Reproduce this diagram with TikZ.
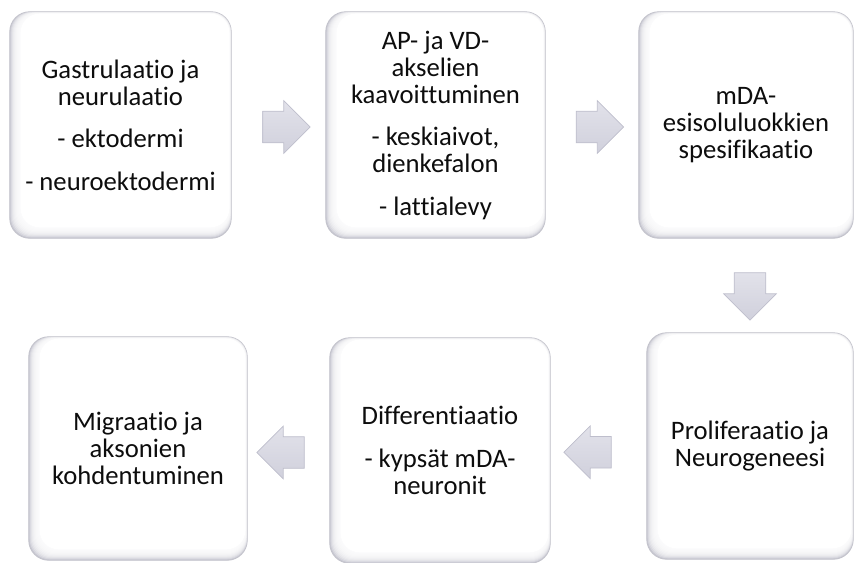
\documentclass[tikz,border=0pt]{standalone}
\usepackage{fontspec}
\setmainfont{Carlito}[Ligatures=NoCommon]
\usetikzlibrary{shapes.arrows,backgrounds,calc}
\definecolor{boxedge}{RGB}{196,196,204}
\definecolor{boxshade}{RGB}{200,200,210}
\definecolor{arrowtop}{RGB}{226,226,234}
\definecolor{arrowbot}{RGB}{208,208,220}
\definecolor{arrowedge}{RGB}{190,190,204}
\definecolor{txt}{RGB}{13,13,13}
\tikzset{
  stagebox/.style 2 args={minimum width=#1*0.75pt, minimum height=#2*0.75pt,
    inner sep=0pt, align=center, text=txt,
    font=\fontsize{20}{20.3}\selectfont},
  blockarrow/.style={single arrow, draw=arrowedge, line width=0.5pt,
    top color=arrowtop, bottom color=arrowbot,
    minimum height=34pt, inner sep=11.6pt,
    single arrow head extend=7.9pt}
}
\newcommand\bevelbox[1]{%
  \path[fill=boxshade, draw=boxedge, line width=0.6pt, rounded corners=15pt]
    (#1.south west) rectangle (#1.north east);
  \foreach \i in {1,...,10}{
    \fill[white, opacity=0.28, rounded corners=15pt]
      ($(#1.south west)+(\i,-\i)$) rectangle ($(#1.north east)+(-0.15*\i,0.15*\i)$);
  }
  \fill[white, rounded corners=14pt]
    ($(#1.south west)+(11,-11)$) rectangle ($(#1.north east)+(-2,2)$);
}
\begin{document}
\begin{tikzpicture}[x=0.75pt,y=-0.75pt]
\useasboundingbox (0,0) rectangle (855,562);
\clip (0,0) rectangle (855,562);
\node[stagebox={221}{226}] (b1) at (120.5,125)
  {Gastrulaatio ja\\neurulaatio\\[11.5pt]- ektodermi\\[11.5pt]- neuroektodermi};
\node[stagebox={219}{226}] (b2) at (435.5,125)
  {AP- ja VD-\\akselien\\kaavoittuminen\\[11.5pt]- keskiaivot,\\dienkefalon\\[11.5pt]- lattialevy};
\node[stagebox={214}{226}] (b3) at (746,125)
  {mDA-\\esisoluluokkien\\spesifikaatio};
\node[stagebox={206}{226}] (b6) at (750,446)
  {Proliferaatio ja\\Neurogeneesi};
\node[stagebox={220}{225}] (b5) at (440,450.5)
  {Differentiaatio\\[11.5pt]- kypsät mDA-\\neuronit};
\node[stagebox={218}{223}] (b4) at (138,448.5)
  {Migraatio ja\\aksonien\\kohdentuminen};
\begin{scope}[on background layer]
  \bevelbox{b1}\bevelbox{b2}\bevelbox{b3}\bevelbox{b4}\bevelbox{b5}\bevelbox{b6}
\end{scope}
\node[blockarrow] (a1) at ($(b1.east)!0.5!(b2.west)+(0,2)$) {};
\node[blockarrow] (a2) at ($(b2.east)!0.5!(b3.west)+(0,2)$) {};
\node[blockarrow, shape border rotate=270] (a3) at ($(b3.south)!0.5!(b6.north)+(2,3)$) {};
\node[blockarrow, shape border rotate=180] (a4) at ($(b5.west)!0.5!(b4.east)+(0,3)$) {};
\node[blockarrow, shape border rotate=180] (a5) at ($(b6.west)!0.5!(b5.east)+(-3,4)$) {};
\end{tikzpicture}
\end{document}
